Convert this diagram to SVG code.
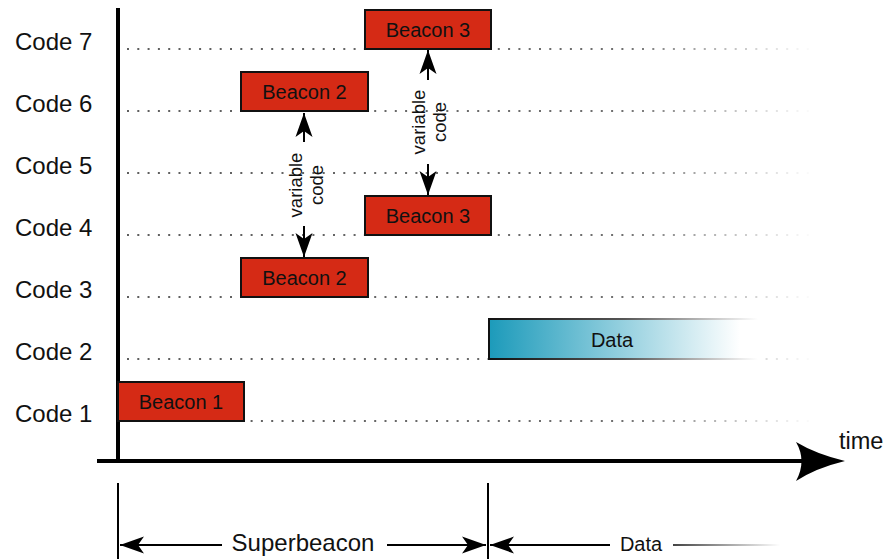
<svg xmlns="http://www.w3.org/2000/svg" width="885" height="559" viewBox="0 0 885 559">
<style>
  text { font-family: "Liberation Sans", Arial, sans-serif; fill: #111; }
  .code { font-size: 24px; }
  .lbl { font-size: 20px; text-anchor: middle; }
  .vc { font-size: 18.5px; text-anchor: middle; }
  .box { fill: #d52a15; stroke: #111; stroke-width: 2; }
  .dots { fill: none; stroke: url(#dotfade); stroke-width: 2; stroke-dasharray: 2 8.3; }
  .conn { fill: none; stroke: #000; stroke-width: 2; }
  .axis { fill: none; stroke: #000; stroke-width: 4; }
</style>
<defs>
  <linearGradient id="dotfade" gradientUnits="userSpaceOnUse" x1="127" y1="0" x2="815" y2="0">
    <stop offset="0" stop-color="#5e5e5e"/>
    <stop offset="0.72" stop-color="#707070"/>
    <stop offset="1" stop-color="#ffffff"/>
  </linearGradient>
  <linearGradient id="datafill" gradientUnits="userSpaceOnUse" x1="488" y1="0" x2="740" y2="0">
    <stop offset="0" stop-color="#1b9aba"/>
    <stop offset="1" stop-color="#ffffff"/>
  </linearGradient>
  <linearGradient id="dataedge" gradientUnits="userSpaceOnUse" x1="488" y1="0" x2="758" y2="0">
    <stop offset="0" stop-color="#111"/>
    <stop offset="0.5" stop-color="#555"/>
    <stop offset="1" stop-color="#ffffff"/>
  </linearGradient>
  <linearGradient id="linefade" gradientUnits="userSpaceOnUse" x1="673" y1="0" x2="780" y2="0">
    <stop offset="0" stop-color="#444"/>
    <stop offset="1" stop-color="#ffffff"/>
  </linearGradient>
  <marker id="ah" markerUnits="userSpaceOnUse" viewBox="-26 -10 27 20" refX="0" refY="0" markerWidth="27" markerHeight="20" orient="auto">
    <path d="M0,0 L-24,-8.5 L-18,0 L-24,8.5 Z" fill="#000"/>
  </marker>
</defs>

<g id="grid">
  <line class="dots" x1="127" y1="49" x2="815" y2="49"/>
  <line class="dots" x1="127" y1="111" x2="815" y2="111"/>
  <line class="dots" x1="127" y1="173" x2="815" y2="173"/>
  <line class="dots" x1="127" y1="235" x2="815" y2="235"/>
  <line class="dots" x1="127" y1="297" x2="815" y2="297"/>
  <line class="dots" x1="127" y1="359" x2="815" y2="359"/>
  <line class="dots" x1="127" y1="421" x2="815" y2="421"/>
</g>

<g id="code-labels">
  <text class="code" x="15" y="50">Code 7</text>
  <text class="code" x="15" y="112">Code 6</text>
  <text class="code" x="15" y="174">Code 5</text>
  <text class="code" x="15" y="236">Code 4</text>
  <text class="code" x="15" y="298">Code 3</text>
  <text class="code" x="15" y="360">Code 2</text>
  <text class="code" x="15" y="422">Code 1</text>
</g>

<g id="axes">
  <line class="axis" x1="118" y1="8" x2="118" y2="463"/>
  <line class="axis" x1="97" y1="461" x2="805" y2="461"/>
  <path d="M845,461 Q816,454 796,442 Q807,461 796,481 Q816,468 845,461 Z" fill="#000"/>
  <text x="839" y="449" style="font-size:23.5px">time</text>
</g>

<g id="beacon1">
  <rect class="box" x="118" y="382" width="126" height="39"/>
  <text class="lbl" x="181" y="408.5">Beacon 1</text>
</g>
<g id="beacon2-top">
  <rect class="box" x="241" y="72" width="127" height="39"/>
  <text class="lbl" x="304.5" y="98.5">Beacon 2</text>
</g>
<g id="beacon2-bottom">
  <rect class="box" x="241" y="258" width="127" height="39"/>
  <text class="lbl" x="304.5" y="284.5">Beacon 2</text>
</g>
<g id="beacon3-top">
  <rect class="box" x="365" y="10" width="126" height="39"/>
  <text class="lbl" x="428" y="36.5">Beacon 3</text>
</g>
<g id="beacon3-bottom">
  <rect class="box" x="365" y="196" width="126" height="39"/>
  <text class="lbl" x="428" y="222.5">Beacon 3</text>
</g>

<g id="data-box">
  <rect x="488" y="319" width="270" height="40" fill="url(#datafill)"/>
  <line x1="488" y1="319" x2="758" y2="319" stroke="url(#dataedge)" stroke-width="2"/>
  <line x1="488" y1="359" x2="758" y2="359" stroke="url(#dataedge)" stroke-width="2"/>
  <line x1="489" y1="318" x2="489" y2="360" stroke="#111" stroke-width="2"/>
  <text class="lbl" x="612" y="346.5">Data</text>
</g>

<g id="connectors">
  <line class="conn" x1="304" y1="142" x2="304" y2="113" marker-end="url(#ah)"/>
  <line class="conn" x1="304" y1="226" x2="304" y2="257" marker-end="url(#ah)"/>
  <line class="conn" x1="428" y1="80" x2="428" y2="50" marker-end="url(#ah)"/>
  <line class="conn" x1="428" y1="164" x2="428" y2="195" marker-end="url(#ah)"/>
  <line class="conn" x1="118" y1="483" x2="118" y2="559"/>
  <line class="conn" x1="488" y1="483" x2="488" y2="559"/>
  <line class="conn" x1="222" y1="545" x2="120" y2="545" marker-end="url(#ah)"/>
  <line class="conn" x1="387" y1="545" x2="486" y2="545" marker-end="url(#ah)"/>
  <line class="conn" x1="610" y1="545" x2="490" y2="545" marker-end="url(#ah)"/>
  <line x1="673" y1="545" x2="780" y2="545" stroke="url(#linefade)" stroke-width="2"/>
</g>

<g id="connector-labels">
  <g transform="translate(302,185) rotate(-90)">
    <text class="vc" x="0" y="0">variable</text>
    <text class="vc" x="0" y="21">code</text>
  </g>
  <g transform="translate(425,122) rotate(-90)">
    <text class="vc" x="0" y="0">variable</text>
    <text class="vc" x="0" y="21">code</text>
  </g>
  <text x="303" y="551" style="font-size:24px;text-anchor:middle">Superbeacon</text>
  <text class="lbl" x="641" y="551">Data</text>
</g>
</svg>
